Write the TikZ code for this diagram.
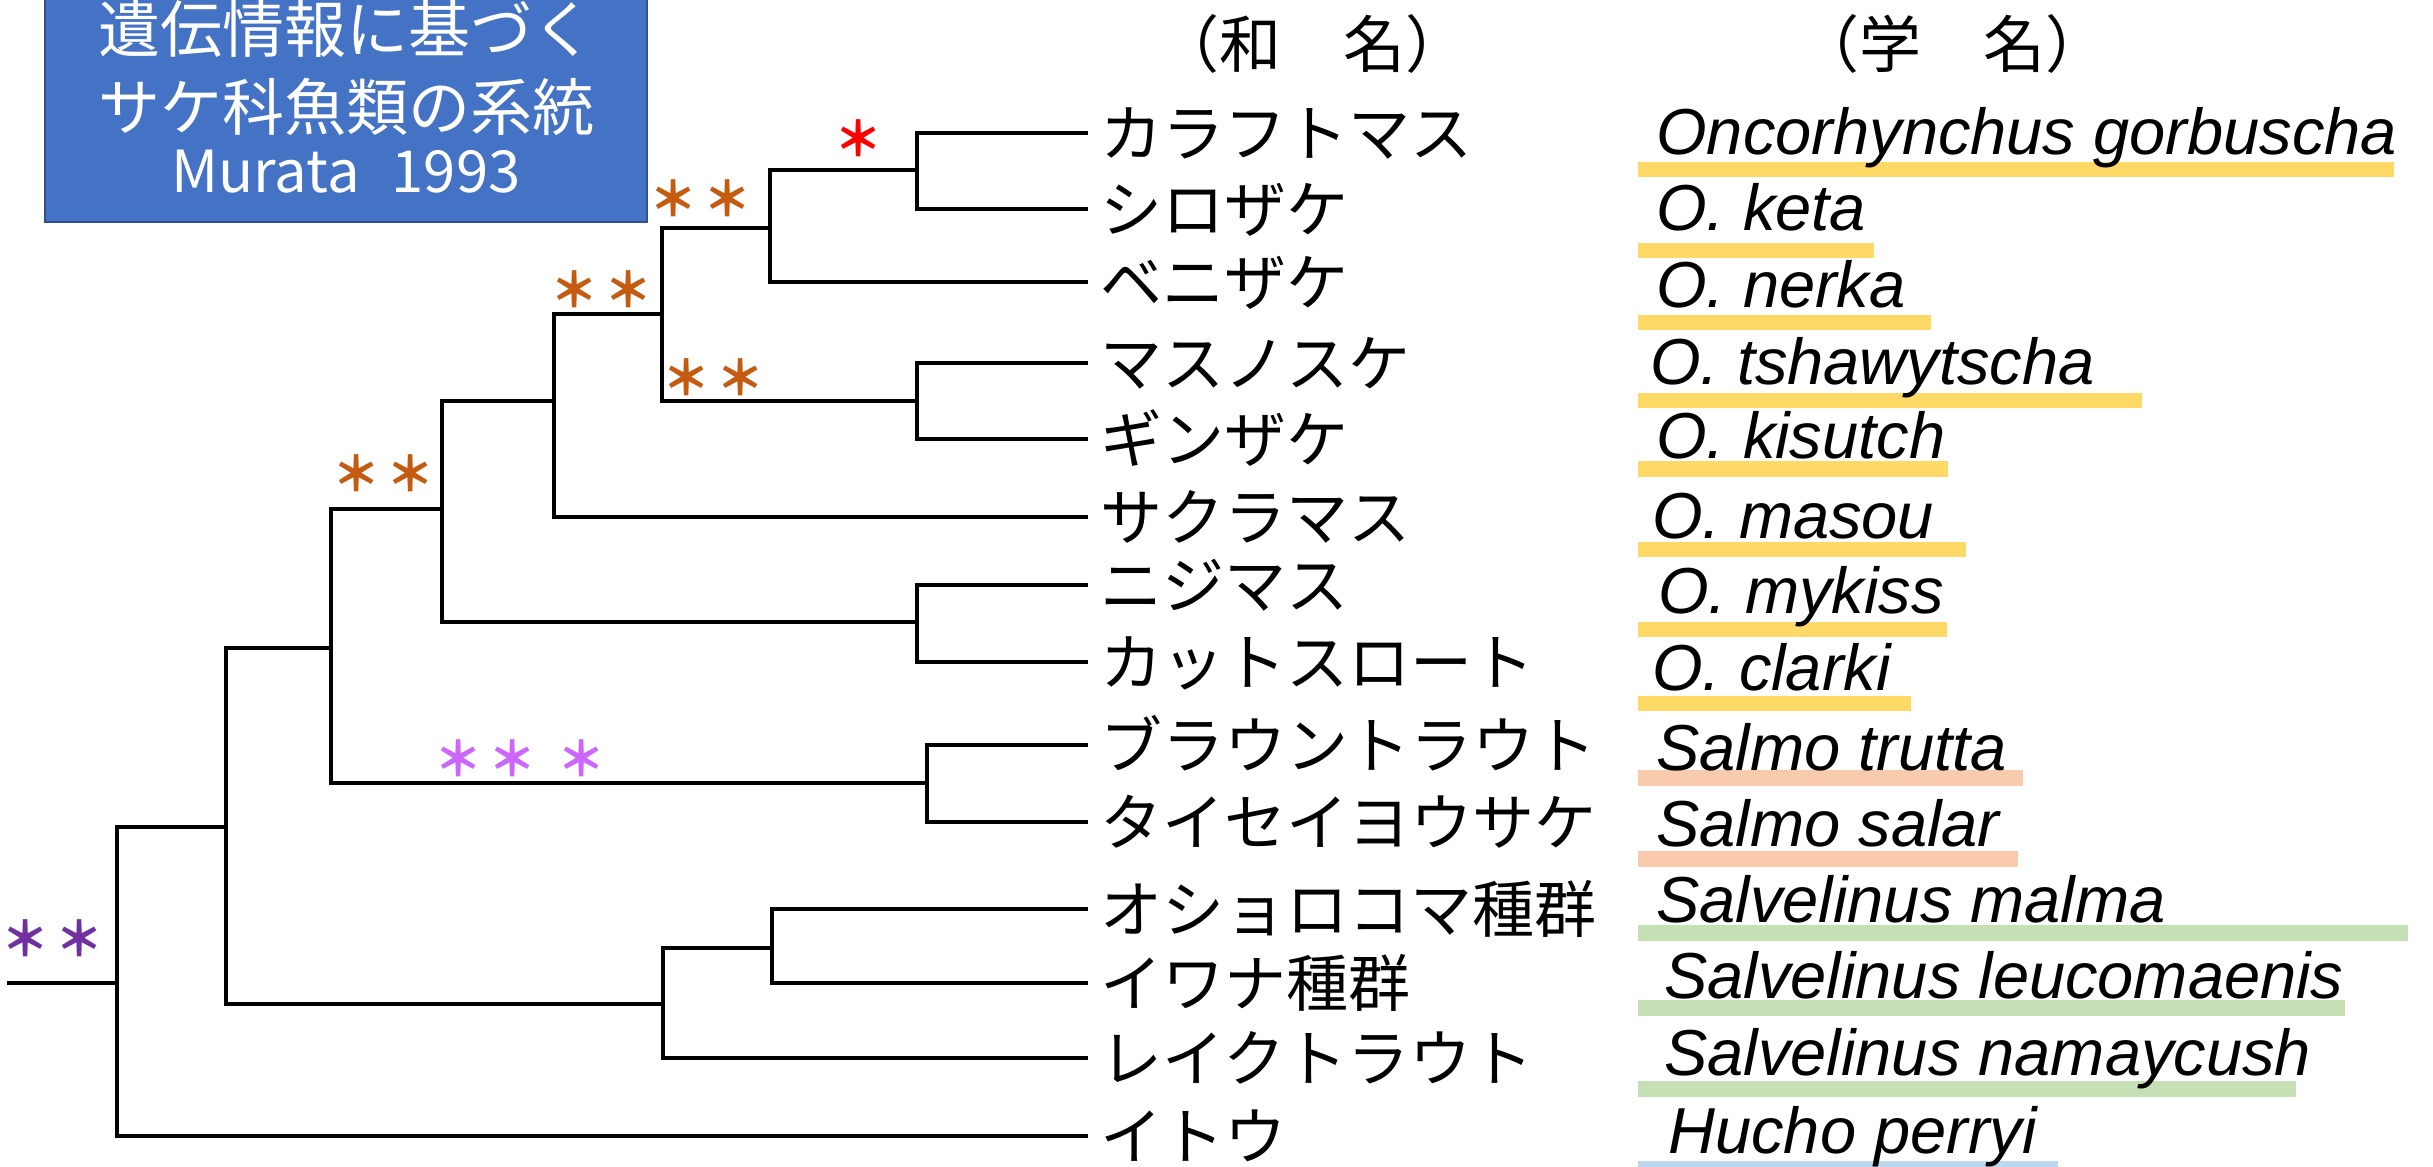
\documentclass[tikz,border=0pt]{standalone}
\usepackage{fontspec}
\newfontfamily\jpfont{Noto Sans CJK JP}
\newfontfamily\scifont{Liberation Sans}
\definecolor{boxblue}{HTML}{4472C4}
\definecolor{boxedge}{HTML}{2F528F}
\definecolor{barYellow}{HTML}{FFD966}
\definecolor{barSalmon}{HTML}{F8CBAD}
\definecolor{barGreen}{HTML}{C5E0B4}
\definecolor{barBlue}{HTML}{BDD7EE}
\definecolor{starorange}{HTML}{C55A11}
\definecolor{starred}{HTML}{FF0000}
\definecolor{starlilac}{HTML}{CC66FF}
\definecolor{starpurple}{HTML}{7030A0}
\newcommand{\stgap}{\hspace{3pt}}
\begin{document}
\begin{tikzpicture}[x=0.5pt,y=-0.5pt,
  branch/.style={line width=2pt, black},
  jname/.style={anchor=west, inner xsep=6pt, inner ysep=0pt, text height=27pt, text depth=4pt,
    font=\jpfont\fontsize{31pt}{37pt}\selectfont},
  header/.style={inner sep=0pt, text height=27pt, text depth=4pt,
    font=\jpfont\fontsize{31pt}{37pt}\selectfont},
  sciname/.style={anchor=base west, inner sep=0pt, font=\scifont\itshape\fontsize{32.5pt}{39pt}\selectfont},
  titlebox/.style={fill=boxblue, draw=boxedge, line width=1pt, minimum width=301pt, minimum height=112pt, inner sep=0pt},
  ttext/.style={inner sep=0pt, text=white, text height=27pt, text depth=4pt,
    font=\jpfont\fontsize{31pt}{37pt}\selectfont},
  tlatin/.style={anchor=base, inner sep=0pt, text=white, font=\jpfont\fontsize{29pt}{35pt}\selectfont},
  stars/.style={inner sep=0pt, font=\jpfont\bfseries\fontsize{24pt}{28pt}\selectfont}
]
\useasboundingbox (0,0) rectangle (2433,1167);

% ---------- title ----------
\node[titlebox] (tbox) at (346,110) {};
\node[ttext] (t1) at (346,29) {遺伝情報に基づく};
\node[ttext] (t2) at (346,107) {サケ科魚類の系統};
\node[tlatin] (t3) at (346,192) {Murata\hspace{16pt}1993};

% ---------- headers ----------
\node[header] (hwa) at (1312,45) {（和　名）};
\node[header] (hgaku) at (1952,45) {（学　名）};

% ---------- coloured bars ----------
\fill[barYellow] (1638,162) rectangle (2394,177);
\fill[barYellow] (1638,243) rectangle (1874,258);
\fill[barYellow] (1638,315) rectangle (1931,330);
\fill[barYellow] (1638,393) rectangle (2142,408);
\fill[barYellow] (1638,461) rectangle (1948,477);
\fill[barYellow] (1638,542) rectangle (1966,557);
\fill[barYellow] (1638,622) rectangle (1947,637);
\fill[barYellow] (1638,696) rectangle (1911,711);
\fill[barSalmon] (1638,770) rectangle (2023,786);
\fill[barSalmon] (1638,851) rectangle (2018,867);
\fill[barGreen] (1638,925) rectangle (2408,941);
\fill[barGreen] (1638,1000) rectangle (2345,1016);
\fill[barGreen] (1638,1081) rectangle (2296,1097);
\fill[barBlue] (1638,1161) rectangle (2058,1175);

% ---------- Japanese names (leaf ends) ----------
\node[jname] (j1) at (1088,133) {カラフトマス};
\node[jname] (j2) at (1088,209) {シロザケ};
\node[jname] (j3) at (1088,282) {ベニザケ};
\node[jname] (j4) at (1088,363) {マスノスケ};
\node[jname] (j5) at (1088,439) {ギンザケ};
\node[jname] (j6) at (1088,517) {サクラマス};
\node[jname] (j7) at (1088,585) {ニジマス};
\node[jname] (j8) at (1088,662) {カットスロート};
\node[jname] (j9) at (1088,745) {ブラウントラウト};
\node[jname] (j10) at (1088,822) {タイセイヨウサケ};
\node[jname] (j11) at (1088,909) {オショロコマ種群};
\node[jname] (j12) at (1088,983) {イワナ種群};
\node[jname] (j13) at (1088,1058) {レイクトラウト};
\node[jname] (j14) at (1088,1136) {イトウ};

% ---------- scientific names ----------
\node[sciname] (s1) at (1656,154) {Oncorhynchus gorbuscha};
\node[sciname] (s2) at (1656,230) {O. keta};
\node[sciname] (s3) at (1656,307) {O. nerka};
\node[sciname] (s4) at (1650,384) {O. tshawytscha};
\node[sciname] (s5) at (1656,458) {O. kisutch};
\node[sciname] (s6) at (1652,538) {O. masou};
\node[sciname] (s7) at (1658,613) {O. mykiss};
\node[sciname] (s8) at (1652,690) {O. clarki};
\node[sciname] (s9) at (1656,770) {Salmo trutta};
\node[sciname] (s10) at (1656,846) {Salmo salar};
\node[sciname] (s11) at (1656,922) {Salvelinus malma};
\node[sciname] (s12) at (1664,998) {Salvelinus leucomaenis};
\node[sciname] (s13) at (1664,1075) {Salvelinus namaycush};
\node[sciname] (s14) at (1668,1153) {Hucho perryi};

% ---------- internal nodes ----------
\coordinate (n12) at (917,170);
\coordinate (n123) at (770,228);
\coordinate (n45) at (917,401);
\coordinate (nA) at (662,314);
\coordinate (nB) at (554,401);
\coordinate (n78) at (917,622);
\coordinate (nC) at (442,509);
\coordinate (n910) at (927,783);
\coordinate (nD) at (331,648);
\coordinate (n1112) at (772,948);
\coordinate (n11213) at (663,1004);
\coordinate (nE) at (226,827);
\coordinate (root) at (117,983);
\coordinate (base) at (7,983);

% ---------- branches ----------
\draw[branch] (n12) |- (j1.west);
\draw[branch] (n12) |- (j2.west);
\draw[branch] (n123) |- (n12);
\draw[branch] (n123) |- (j3.west);
\draw[branch] (n45) |- (j4.west);
\draw[branch] (n45) |- (j5.west);
\draw[branch] (nA) |- (n123);
\draw[branch] (nA) |- (n45);
\draw[branch] (nB) |- (nA);
\draw[branch] (nB) |- (j6.west);
\draw[branch] (n78) |- (j7.west);
\draw[branch] (n78) |- (j8.west);
\draw[branch] (nC) |- (nB);
\draw[branch] (nC) |- (n78);
\draw[branch] (n910) |- (j9.west);
\draw[branch] (n910) |- (j10.west);
\draw[branch] (nD) |- (nC);
\draw[branch] (nD) |- (n910);
\draw[branch] (n1112) |- (j11.west);
\draw[branch] (n1112) |- (j12.west);
\draw[branch] (n11213) |- (n1112);
\draw[branch] (n11213) |- (j13.west);
\draw[branch] (nE) |- (nD);
\draw[branch] (nE) |- (n11213);
\draw[branch] (root) |- (nE);
\draw[branch] (root) |- (j14.west);
\draw[branch] (base) -- (root);

% ---------- asterisks ----------
\node[stars, text=starred] (stR) at (858,138) {＊};
\node[stars, text=starorange] (st1) at (700,198) {＊\stgap＊};
\node[stars, text=starorange] (st2) at (713,377) {＊\stgap＊};
\node[stars, text=starorange] (st3) at (601,289) {＊\stgap＊};
\node[stars, text=starorange] (st4) at (383,473) {＊\stgap＊};
\node[stars, text=starlilac] (st5) at (520,758) {＊\stgap＊\hspace{11pt}＊};
\node[stars, text=starpurple] (st6) at (53,938) {＊\stgap＊};
\end{tikzpicture}
\end{document}
